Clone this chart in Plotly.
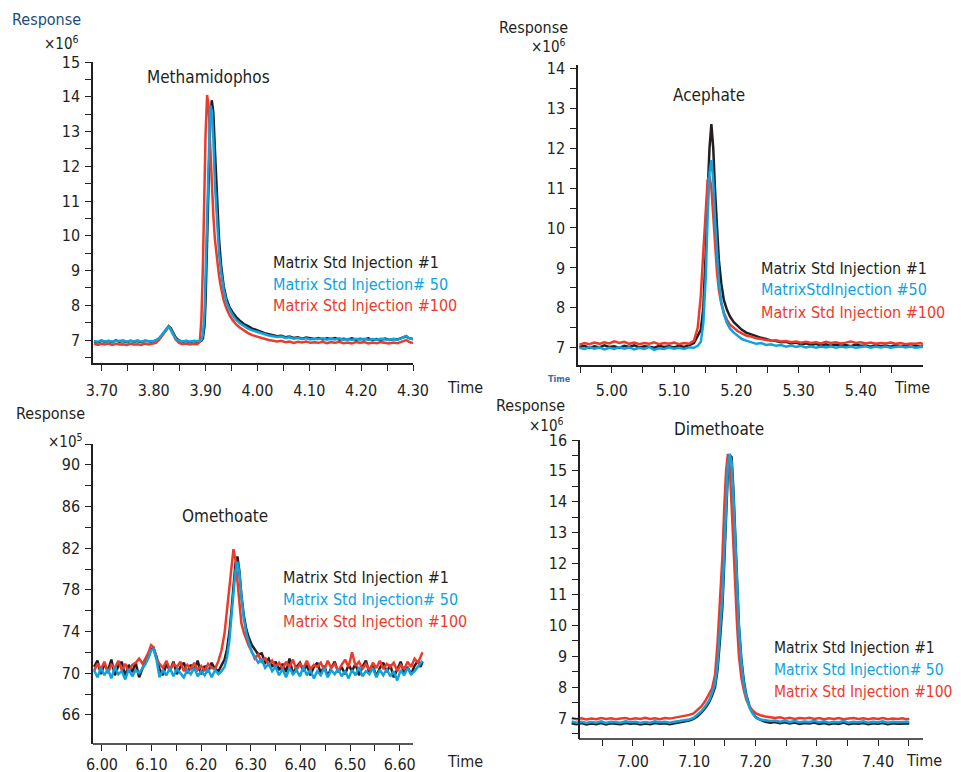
import plotly.graph_objects as go

# ---------------- data ----------------
SERIES = ["Matrix Std Injection #1", "Matrix Std Injection# 50", "Matrix Std Injection #100"]
SERIES_P2 = ["Matrix Std Injection #1", "MatrixStdInjection #50", "Matrix Std Injection #100"]
COMPOUNDS = ["Methamidophos", "Acephate", "Omethoate", "Dimethoate"]

# Panel 1 - Methamidophos (x10^6)
t1 = [3.685, 3.692, 3.699, 3.706, 3.713, 3.720, 3.727, 3.734, 3.741, 3.748,
      3.755, 3.762, 3.769, 3.776, 3.783, 3.790, 3.797, 3.804, 3.810, 3.815,
      3.820, 3.825, 3.829, 3.833, 3.838, 3.843, 3.849, 3.856, 3.863, 3.870,
      3.877, 3.884, 3.889, 3.892, 3.895, 3.898, 3.900, 3.903, 3.906, 3.909,
      3.912, 3.915, 3.918, 3.922, 3.926, 3.930, 3.935, 3.940, 3.946, 3.952,
      3.959, 3.966, 3.974, 3.982, 3.990, 3.998, 4.006, 4.014, 4.022, 4.030,
      4.038, 4.046, 4.054, 4.062, 4.070, 4.078, 4.086, 4.094, 4.102, 4.110,
      4.118, 4.126, 4.134, 4.142, 4.150, 4.158, 4.166, 4.174, 4.182, 4.190,
      4.198, 4.206, 4.214, 4.222, 4.230, 4.238, 4.246, 4.254, 4.262, 4.270,
      4.276, 4.282, 4.287, 4.291, 4.295, 4.300]
p1_inj1 = [6.96, 6.93, 6.98, 6.95, 6.97, 6.94, 6.99, 6.95, 6.97, 6.94,
           6.98, 6.95, 6.97, 6.94, 6.98, 6.96, 6.95, 6.99, 7.03, 7.12,
           7.22, 7.33, 7.40, 7.34, 7.20, 7.06, 6.99, 6.95, 6.97, 6.94,
           6.97, 6.95, 6.96, 6.98, 7.05, 7.40, 8.10, 9.90, 11.80, 13.30,
           13.90, 13.55, 12.50, 11.00, 9.90, 9.15, 8.55, 8.20, 7.95, 7.80,
           7.66, 7.56, 7.46, 7.40, 7.33, 7.29, 7.24, 7.20, 7.17, 7.15,
           7.11, 7.12, 7.08, 7.10, 7.06, 7.08, 7.04, 7.07, 7.05, 7.03,
           7.06, 7.02, 7.05, 7.03, 7.06, 7.01, 7.04, 7.02, 7.05, 7.01,
           7.04, 7.02, 7.05, 7.00, 7.03, 7.01, 7.04, 7.00, 7.03, 7.02,
           7.05, 7.09, 7.11, 7.06, 7.04, 7.03]
p1_inj50 = [6.97, 6.95, 6.99, 6.96, 6.98, 6.95, 6.98, 6.97, 6.99, 6.95,
            6.98, 6.96, 6.99, 6.95, 6.98, 6.97, 6.96, 6.99, 7.05, 7.14,
            7.24, 7.33, 7.38, 7.30, 7.16, 7.03, 6.98, 6.96, 6.98, 6.95,
            6.97, 6.96, 6.97, 7.00, 7.15, 7.80, 8.90, 11.00, 12.80, 13.75,
            13.60, 12.80, 11.50, 10.30, 9.50, 8.95, 8.45, 8.10, 7.88, 7.72,
            7.58, 7.48, 7.40, 7.33, 7.28, 7.24, 7.19, 7.16, 7.13, 7.11,
            7.09, 7.10, 7.06, 7.08, 7.04, 7.06, 7.03, 7.05, 7.02, 7.04,
            7.03, 7.05, 7.01, 7.04, 7.02, 7.05, 7.01, 7.03, 7.00, 7.04,
            7.02, 7.04, 7.00, 7.03, 7.01, 7.04, 7.02, 7.00, 7.03, 7.01,
            7.04, 7.08, 7.12, 7.07, 7.04, 7.03]
p1_inj100 = [6.90, 6.86, 6.89, 6.87, 6.90, 6.86, 6.89, 6.87, 6.88, 6.86,
             6.89, 6.87, 6.88, 6.86, 6.90, 6.87, 6.89, 6.92, 7.00, 7.10,
             7.22, 7.32, 7.38, 7.30, 7.14, 7.00, 6.92, 6.88, 6.90, 6.87,
             6.89, 6.88, 6.95, 7.60, 9.20, 11.50, 12.90, 14.05, 13.70, 12.60,
             11.50, 10.60, 9.90, 9.30, 8.85, 8.50, 8.15, 7.92, 7.72, 7.58,
             7.45, 7.36, 7.27, 7.20, 7.14, 7.10, 7.06, 7.03, 7.00, 6.98,
             6.96, 6.98, 6.94, 6.96, 6.92, 6.95, 6.93, 6.96, 6.92, 6.94,
             6.92, 6.95, 6.91, 6.94, 6.92, 6.95, 6.91, 6.93, 6.90, 6.94,
             6.92, 6.94, 6.90, 6.93, 6.91, 6.94, 6.92, 6.90, 6.93, 6.91,
             6.94, 6.97, 7.00, 6.96, 6.93, 6.92]

# Panel 2 - Acephate (x10^6)
t2 = [4.948, 4.956, 4.964, 4.972, 4.980, 4.988, 4.996, 5.004, 5.012, 5.020,
      5.028, 5.036, 5.044, 5.052, 5.060, 5.068, 5.076, 5.084, 5.092, 5.100,
      5.108, 5.116, 5.124, 5.132, 5.138, 5.143, 5.147, 5.151, 5.154, 5.157,
      5.160, 5.163, 5.166, 5.169, 5.172, 5.176, 5.180, 5.185, 5.190, 5.196,
      5.202, 5.209, 5.216, 5.224, 5.232, 5.240, 5.248, 5.256, 5.264, 5.272,
      5.280, 5.288, 5.296, 5.304, 5.312, 5.320, 5.328, 5.336, 5.344, 5.352,
      5.360, 5.368, 5.376, 5.384, 5.392, 5.400, 5.408, 5.416, 5.424, 5.432,
      5.440, 5.448, 5.456, 5.464, 5.472, 5.480, 5.488, 5.496, 5.500]
p2_inj1 = [7.02, 7.05, 7.00, 7.04, 7.01, 7.06, 7.02, 7.04, 7.00, 7.05,
           7.02, 7.06, 7.01, 7.04, 7.03, 7.00, 7.05, 7.02, 7.04, 7.01,
           7.05, 7.02, 7.06, 7.12, 7.30, 7.45, 8.00, 9.40, 10.90, 12.00,
           12.60, 12.00, 10.90, 10.00, 9.20, 8.60, 8.20, 7.95, 7.78, 7.64,
           7.54, 7.45, 7.38, 7.33, 7.28, 7.25, 7.22, 7.18, 7.17, 7.14,
           7.15, 7.11, 7.13, 7.09, 7.11, 7.07, 7.10, 7.06, 7.09, 7.05,
           7.08, 7.05, 7.07, 7.04, 7.08, 7.05, 7.06, 7.03, 7.07, 7.04,
           7.06, 7.03, 7.07, 7.04, 7.06, 7.02, 7.05, 7.03, 7.04]
p2_inj50 = [7.00, 6.97, 7.02, 6.98, 7.01, 6.96, 7.00, 6.97, 7.02, 6.98,
            7.01, 6.96, 7.00, 6.97, 7.02, 6.95, 6.99, 6.97, 7.01, 6.98,
            7.00, 6.97, 7.01, 7.00, 7.05, 7.15, 7.60, 8.80, 10.30, 11.40,
            11.70, 11.20, 10.20, 9.30, 8.65, 8.15, 7.85, 7.62, 7.48, 7.38,
            7.30, 7.22, 7.18, 7.14, 7.10, 7.12, 7.07, 7.09, 7.05, 7.07,
            7.03, 7.06, 7.02, 7.05, 7.01, 7.04, 7.00, 7.03, 7.01, 7.04,
            7.00, 7.03, 7.01, 7.04, 7.00, 7.02, 7.04, 7.00, 7.03, 7.01,
            7.03, 7.00, 7.02, 7.04, 7.01, 7.03, 7.00, 7.02, 7.03]
p2_inj100 = [7.08, 7.12, 7.09, 7.13, 7.10, 7.14, 7.11, 7.16, 7.12, 7.15,
             7.10, 7.13, 7.09, 7.12, 7.10, 7.14, 7.09, 7.12, 7.10, 7.13,
             7.09, 7.12, 7.10, 7.18, 7.50, 8.30, 9.40, 10.60, 11.20, 11.30,
             11.00, 10.30, 9.50, 8.90, 8.45, 8.10, 7.88, 7.70, 7.58, 7.50,
             7.42, 7.36, 7.31, 7.28, 7.24, 7.22, 7.20, 7.18, 7.19, 7.16,
             7.17, 7.14, 7.16, 7.13, 7.15, 7.12, 7.14, 7.11, 7.15, 7.12,
             7.14, 7.11, 7.13, 7.16, 7.12, 7.14, 7.11, 7.13, 7.10, 7.12,
             7.11, 7.13, 7.10, 7.12, 7.09, 7.11, 7.10, 7.12, 7.09]

# Panel 3 - Omethoate (x10^5)
t3 = [5.984, 5.991, 5.998, 6.005, 6.012, 6.019, 6.026, 6.033, 6.040, 6.047,
      6.054, 6.061, 6.068, 6.075, 6.082, 6.088, 6.094, 6.099, 6.104, 6.110,
      6.116, 6.123, 6.130, 6.137, 6.144, 6.151, 6.158, 6.165, 6.172, 6.179,
      6.186, 6.193, 6.200, 6.207, 6.214, 6.221, 6.228, 6.235, 6.241, 6.247,
      6.252, 6.257, 6.261, 6.265, 6.269, 6.273, 6.277, 6.281, 6.286, 6.291,
      6.296, 6.302, 6.308, 6.315, 6.322, 6.329, 6.336, 6.343, 6.350, 6.357,
      6.364, 6.371, 6.378, 6.385, 6.392, 6.399, 6.406, 6.413, 6.420, 6.427,
      6.434, 6.441, 6.448, 6.455, 6.462, 6.469, 6.476, 6.483, 6.490, 6.497,
      6.504, 6.511, 6.518, 6.525, 6.532, 6.539, 6.546, 6.553, 6.560, 6.567,
      6.574, 6.581, 6.588, 6.595, 6.602, 6.609, 6.616, 6.623, 6.630, 6.637,
      6.642, 6.646]
p3_inj1 = [70.6, 71.2, 69.9, 70.9, 70.2, 71.3, 69.8, 70.7, 71.1, 69.7,
           70.8, 70.1, 71.0, 69.6, 70.5, 71.0, 71.6, 72.3, 72.4, 71.6,
           70.4, 69.8, 70.9, 70.2, 71.1, 69.9, 70.6, 71.0, 70.0, 70.8,
           70.3, 71.2, 69.9, 70.7, 70.1, 71.0, 70.4, 70.2, 70.8, 71.3,
           72.3, 74.0, 76.0, 78.5, 80.5, 81.2, 79.8, 77.5, 75.5, 74.2,
           73.4, 72.7, 72.3, 71.8, 71.9, 71.0, 71.4, 70.6, 71.1, 70.3,
           70.9, 70.1, 71.4, 69.9, 70.6, 71.0, 70.2, 70.8, 69.8, 70.6,
           71.0, 70.0, 70.7, 69.7, 70.5, 71.1, 70.1, 70.6, 69.9, 70.8,
           70.2, 70.9, 69.8, 70.6, 71.2, 70.0, 70.7, 69.7, 70.5, 71.0,
           70.1, 70.8, 69.6, 70.4, 71.1, 70.0, 70.6, 69.9, 70.7, 71.2,
           70.6, 71.1]
p3_inj50 = [70.3, 69.6, 70.5, 69.8, 70.4, 69.5, 70.6, 69.9, 70.2, 69.4,
            70.4, 69.7, 70.3, 70.0, 70.5, 70.9, 71.5, 72.2, 72.3, 71.3,
            69.6, 70.3, 69.8, 70.5, 69.7, 70.4, 70.0, 69.6, 70.3, 69.9,
            70.5, 69.7, 70.2, 69.8, 70.4, 69.6, 70.3, 69.9, 70.2, 70.6,
            71.5, 73.2, 75.5, 77.8, 79.8, 80.7, 79.6, 77.4, 75.2, 73.8,
            72.9, 72.0, 71.6, 71.0, 71.3, 70.5, 70.9, 70.2, 70.6, 69.8,
            70.4, 69.6, 70.5, 69.9, 70.3, 69.7, 70.6, 69.8, 70.3, 69.5,
            70.2, 69.8, 70.5, 69.6, 70.3, 69.9, 70.4, 69.7, 70.2, 69.5,
            70.3, 69.8, 70.6, 69.7, 70.2, 69.9, 70.5, 69.6, 70.3, 69.8,
            70.4, 69.7, 70.2, 69.3, 70.3, 69.8, 70.5, 69.9, 70.2, 70.6,
            70.9, 71.2]
p3_inj100 = [70.2, 70.9, 70.4, 71.1, 70.0, 70.8, 70.5, 71.2, 70.3, 70.9,
             70.1, 70.8, 71.0, 71.4, 70.9, 71.5, 72.0, 72.7, 72.5, 71.4,
             70.9, 70.5, 71.2, 70.3, 70.9, 70.6, 71.1, 70.2, 70.8, 70.4,
             71.0, 70.3, 70.7, 70.2, 70.9, 70.5, 70.4, 71.2, 72.2, 73.8,
             76.0, 78.5, 80.5, 81.9, 80.9, 78.8, 76.4, 74.8, 73.9, 73.2,
             72.6, 72.1, 71.4, 71.8, 71.0, 71.5, 70.7, 71.2, 70.6, 71.0,
             70.4, 71.1, 70.6, 71.3, 70.3, 70.9, 70.5, 71.2, 70.4, 70.8,
             70.6, 71.0, 70.3, 71.2, 70.5, 70.9, 70.2, 70.8, 71.3, 70.6,
             72.0, 70.7, 71.1, 70.4, 70.9, 70.3, 71.0, 70.5, 71.2, 70.4,
             70.9, 70.6, 71.0, 70.2, 70.8, 70.4, 71.1, 70.6, 71.4, 71.0,
             71.6, 72.0]

# Panel 4 - Dimethoate (x10^6)
t4 = [6.900, 6.908, 6.916, 6.924, 6.932, 6.940, 6.948, 6.956, 6.964, 6.972,
      6.980, 6.988, 6.996, 7.004, 7.012, 7.020, 7.028, 7.036, 7.044, 7.052,
      7.060, 7.068, 7.076, 7.084, 7.092, 7.099, 7.105, 7.112, 7.118, 7.124,
      7.129, 7.134, 7.138, 7.142, 7.146, 7.149, 7.152, 7.155, 7.158, 7.161,
      7.164, 7.167, 7.170, 7.173, 7.177, 7.181, 7.185, 7.190, 7.195, 7.201,
      7.208, 7.216, 7.224, 7.232, 7.240, 7.248, 7.256, 7.264, 7.272, 7.280,
      7.288, 7.296, 7.304, 7.312, 7.320, 7.328, 7.336, 7.344, 7.352, 7.360,
      7.368, 7.376, 7.384, 7.392, 7.400, 7.408, 7.416, 7.424, 7.432, 7.440,
      7.446, 7.451]
p4_inj1 = [6.83, 6.80, 6.84, 6.79, 6.82, 6.80, 6.84, 6.79, 6.83, 6.81,
           6.80, 6.84, 6.81, 6.83, 6.79, 6.82, 6.80, 6.84, 6.81, 6.83,
           6.80, 6.83, 6.86, 6.88, 6.92, 6.97, 7.05, 7.18, 7.32, 7.50,
           7.72, 8.00, 8.55, 9.50, 10.60, 12.00, 13.60, 15.00, 15.50, 15.45,
           14.40, 12.80, 11.30, 10.00, 8.90, 8.20, 7.75, 7.40, 7.18, 7.02,
           6.94, 6.88, 6.85, 6.87, 6.83, 6.86, 6.82, 6.85, 6.81, 6.84,
           6.82, 6.85, 6.81, 6.84, 6.80, 6.83, 6.81, 6.85, 6.80, 6.83,
           6.81, 6.84, 6.80, 6.83, 6.81, 6.84, 6.80, 6.83, 6.81, 6.82,
           6.83, 6.82]
p4_inj50 = [6.89, 6.85, 6.88, 6.84, 6.87, 6.85, 6.89, 6.84, 6.88, 6.86,
            6.85, 6.89, 6.86, 6.88, 6.84, 6.87, 6.85, 6.89, 6.86, 6.88,
            6.85, 6.88, 6.90, 6.92, 6.95, 7.00, 7.10, 7.22, 7.38, 7.55,
            7.80, 8.10, 8.70, 9.80, 10.90, 12.30, 13.90, 15.20, 15.55, 15.30,
            14.20, 12.70, 11.20, 9.90, 8.80, 8.10, 7.70, 7.35, 7.15, 7.00,
            6.95, 6.93, 6.90, 6.92, 6.88, 6.91, 6.87, 6.90, 6.86, 6.89,
            6.87, 6.90, 6.86, 6.89, 6.85, 6.88, 6.86, 6.90, 6.85, 6.88,
            6.86, 6.89, 6.85, 6.88, 6.86, 6.89, 6.85, 6.88, 6.86, 6.87,
            6.88, 6.88]
p4_inj100 = [7.00, 6.96, 6.99, 6.95, 6.98, 6.96, 7.00, 6.97, 6.99, 6.96,
             6.98, 7.00, 6.96, 6.99, 6.97, 7.01, 6.97, 6.99, 6.96, 7.00,
             6.98, 7.01, 7.03, 7.06, 7.10, 7.15, 7.25, 7.38, 7.55, 7.75,
             7.95, 8.40, 9.40, 10.80, 12.20, 13.80, 15.00, 15.55, 15.10, 13.90,
             12.50, 11.10, 10.00, 9.00, 8.30, 7.90, 7.60, 7.38, 7.25, 7.15,
             7.09, 7.05, 7.03, 7.00, 7.02, 6.98, 7.01, 6.97, 7.00, 6.98,
             7.01, 6.97, 7.00, 6.96, 6.99, 6.97, 7.00, 6.96, 6.98, 7.00,
             6.97, 6.99, 6.96, 6.99, 6.97, 7.00, 6.96, 6.98, 6.97, 6.99,
             6.96, 6.98]

# tick values
x1_ticks = [3.70, 3.80, 3.90, 4.00, 4.10, 4.20, 4.30]
x2_ticks = [5.00, 5.10, 5.20, 5.30, 5.40]
x3_ticks = [6.00, 6.10, 6.20, 6.30, 6.40, 6.50, 6.60]
x4_ticks = [7.00, 7.10, 7.20, 7.30, 7.40]
y1_ticks = [7, 8, 9, 10, 11, 12, 13, 14, 15]
y2_ticks = [7, 8, 9, 10, 11, 12, 13, 14]
y3_ticks = [66, 70, 74, 78, 82, 86, 90]
y4_ticks = [7, 8, 9, 10, 11, 12, 13, 14, 15, 16]

# ---------------- style ----------------
VIEW_W, VIEW_H = 961, 772
PAGE_PAD = 8                      # default body margin of the html page
W, H = VIEW_W - PAGE_PAD, VIEW_H - PAGE_PAD
FONT = "Liberation Sans Narrow, DejaVu Sans Condensed, Arial Narrow, sans-serif"
INK = "#231f20"
C_BLACK = "#231f20"
C_BLUE = "#0ea2e0"
C_RED = "#ee3a2b"
LINE_W = 2.5


def fx(p):
    return (p - PAGE_PAD) / W


def fy(p):
    return 1 - (p - PAGE_PAD) / H


def halfsteps(a, b, step):
    out = []
    v = a
    while v <= b + 1e-9:
        out.append(round(v, 4))
        v += step
    return out


fig = go.Figure()

panels = [
    dict(t=t1, ys=[p1_inj1, p1_inj100, p1_inj50]),
    dict(t=t2, ys=[p2_inj1, p2_inj100, p2_inj50]),
    dict(t=t3, ys=[p3_inj1, p3_inj100, p3_inj50]),
    dict(t=t4, ys=[p4_inj1, p4_inj100, p4_inj50]),
]
colors = [C_BLACK, C_RED, C_BLUE]
for i, p in enumerate(panels):
    sfx = "" if i == 0 else str(i + 1)
    for y, c in zip(p["ys"], colors):
        fig.add_trace(go.Scatter(x=p["t"], y=y, mode="lines",
                                 line=dict(color=c, width=LINE_W),
                                 xaxis="x" + sfx, yaxis="y" + sfx,
                                 showlegend=False, hoverinfo="skip"))

tickfont = dict(family=FONT, size=16, color=INK)


def xaxis(dom_px, rng, ticks, minor, anchor, showline=True, standoff=6):
    return dict(domain=[fx(dom_px[0]), fx(dom_px[1])], range=rng, anchor=anchor,
                tickvals=ticks, ticktext=["%.2f" % v for v in ticks],
                ticks="outside", ticklen=6, tickwidth=1.3, tickcolor=INK,
                minor=dict(tickvals=minor, ticks="outside", ticklen=6,
                           tickwidth=1.3, tickcolor=INK),
                showline=showline, linecolor=INK, linewidth=1.5,
                showgrid=False, zeroline=False, tickfont=tickfont,
                ticklabelstandoff=standoff, automargin=False, fixedrange=True)


def yaxis(dom_px, rng, ticks, minor, anchor, position=None):
    d = dict(domain=[fy(dom_px[1]), fy(dom_px[0])], range=rng,
             tickvals=ticks, ticktext=[str(v) for v in ticks],
             ticks="outside", ticklen=6, tickwidth=1.3, tickcolor=INK,
             minor=dict(tickvals=minor, ticks="outside", ticklen=6,
                        tickwidth=1.3, tickcolor=INK),
             showline=True, linecolor=INK, linewidth=1.5,
             showgrid=False, zeroline=False, tickfont=tickfont,
             ticklabelstandoff=2, automargin=False, fixedrange=True)
    if position is None:
        d["anchor"] = anchor
    else:
        d["anchor"] = "free"
        d["position"] = position
    return d


fig.update_layout(
    width=W, height=H, margin=dict(l=0, r=0, t=0, b=0, autoexpand=False),
    paper_bgcolor="white", plot_bgcolor="white", showlegend=False,
    xaxis=xaxis((93, 413), [3.683, 4.30], x1_ticks, halfsteps(3.75, 4.25, 0.1), "y",
                standoff=6),
    yaxis=yaxis((62, 363), [6.34, 15.0], y1_ticks, halfsteps(6.5, 14.5, 1.0), "x"),
    xaxis2=xaxis((578, 923), [4.9457, 5.50], x2_ticks, halfsteps(4.95, 5.50, 0.1), "y2",
                 standoff=4),
    yaxis2=yaxis((65, 365), [6.57, 14.08], y2_ticks, halfsteps(7.5, 13.5, 1.0), "x2"),
    xaxis3=xaxis((93, 425), [5.982, 6.651], x3_ticks, halfsteps(6.05, 6.55, 0.1), "y3",
                 showline=False, standoff=0),
    yaxis3=yaxis((444, 744), [63.2, 92.0], y3_ticks, [68, 72, 76, 80, 84, 88, 92], "x3"),
    xaxis4=xaxis((570, 923), [6.8973, 7.4734], x4_ticks, halfsteps(6.95, 7.45, 0.1), "y4",
                 showline=False, standoff=2),
    yaxis4=yaxis((440, 739), [6.32, 16.0], y4_ticks, halfsteps(6.5, 15.5, 1.0), "x4",
                 position=fx(579)),
)

# x-axis baselines for panels whose traces overhang the axis
fig.add_shape(type="line", xref="paper", yref="paper", x0=fx(93), x1=fx(413),
              y0=fy(744), y1=fy(744), line=dict(color=INK, width=1.5))
fig.add_shape(type="line", xref="paper", yref="paper", x0=fx(579), x1=fx(923),
              y0=fy(739), y1=fy(739), line=dict(color=INK, width=1.5))


def ann(text, x, y, xanchor="left", size=16, color=INK, bold=False):
    fig.add_annotation(text=("<b>%s</b>" % text) if bold else text,
                       x=fx(x), y=fy(y), xref="paper", yref="paper",
                       xanchor=xanchor, yanchor="middle", showarrow=False,
                       font=dict(family=FONT, size=size, color=color))


LEG = 16
# Panel 1 texts
ann("Response", 10, 20, color="#1b4c7c")
ann("×10<sup>6</sup>", 81, 43, xanchor="right", size=15)
ann(COMPOUNDS[0], 208, 77, xanchor="center", size=17)
for k, (s, c) in enumerate(zip(SERIES, [C_BLACK, C_BLUE, C_RED])):
    ann(s, 271, 262 + 22 * k, size=LEG, color=c)
ann("Time", 445, 387)

# Panel 2 texts
ann("Response", 497, 27)
ann("×10<sup>6</sup>", 568, 46, xanchor="right", size=15)
ann(COMPOUNDS[1], 709, 95, xanchor="center", size=17)
for k, (s, c) in enumerate(zip(SERIES_P2, [C_BLACK, C_BLUE, C_RED])):
    ann(s, 759, 268 + 22 * k, size=LEG, color=c)
ann("Time", 892, 387)
ann("Time", 559, 379, xanchor="center", size=9, color="#3a6ea5", bold=True)

# Panel 3 texts
ann("Response", 14, 413)
ann("×10<sup>5</sup>", 85, 441, xanchor="right", size=15)
ann(COMPOUNDS[2], 225, 516, xanchor="center", size=17)
for k, (s, c) in enumerate(zip(SERIES, [C_BLACK, C_BLUE, C_RED])):
    ann(s, 281, 577 + 22 * k, size=LEG, color=c)
ann("Time", 445, 761)

# Panel 4 texts
ann("Response", 494, 405)
ann("×10<sup>6</sup>", 566, 425, xanchor="right", size=15)
ann(COMPOUNDS[3], 719, 429, xanchor="center", size=17)
for k, (s, c) in enumerate(zip(SERIES, [C_BLACK, C_BLUE, C_RED])):
    ann(s, 772, 648 + 22 * k, size=15.5, color=c)
ann("Time", 904, 760)

fig.write_html("out.html")
